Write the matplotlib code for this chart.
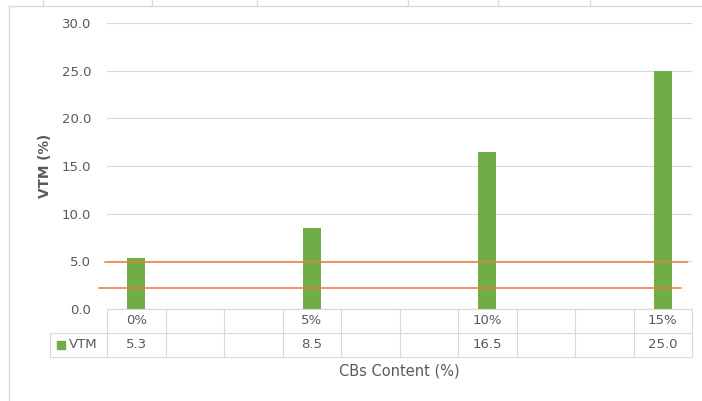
import numpy as np
import matplotlib.pyplot as plt
from matplotlib.lines import Line2D

# data (Excel sheet had blank rows between the filled categories)
categories = ['0%', '', '', '5%', '', '', '10%', '', '', '15%']
vtm = [5.3, np.nan, np.nan, 8.5, np.nan, np.nan, 16.5, np.nan, np.nan, 25.0]
series_name = 'VTM'
y_ticks = [0, 5, 10, 15, 20, 25, 30]

# the two hand-drawn orange reference lines
ref_levels = [4.9, 2.2]
ref_spans = [(-0.54, 9.42), (-0.64, 9.32)]

W, H = 702, 401
green = '#70AD47'
orange = '#ED7D31'
grid_c = '#d9d9d9'
txt_c = '#595959'
fs = 9.5

fig = plt.figure(figsize=(W / 100, H / 100), dpi=100)

ax = fig.add_axes([107 / W, 1 - 309 / H, 585 / W, 286 / H])
x = np.arange(len(categories))
ax.bar(x, vtm, width=0.31, color=green, zorder=2)
for lvl, (x0, x1) in zip(ref_levels, ref_spans):
    ax.plot([x0, x1], [lvl, lvl], color=orange, lw=1.1, zorder=3, clip_on=False)

ax.set_xlim(-0.5, len(categories) - 0.5)
ax.set_ylim(0, 30)
ax.set_yticks(y_ticks)
ax.set_yticklabels([f'{v:.1f}' for v in y_ticks], color=txt_c, fontsize=fs)
ax.set_xticks([])
ax.tick_params(axis='y', length=0, pad=11.5)
ax.grid(axis='y', color=grid_c, lw=0.8)
ax.set_axisbelow(True)
for s in ax.spines.values():
    s.set_visible(False)

fig.text(45 / W, 1 - 166 / H, 'VTM (%)', rotation=90, ha='center', va='center',
         fontsize=fs + 0.3, fontweight='bold', color=txt_c)

# data table under the plot
tax = fig.add_axes([50 / W, 1 - 357 / H, 642 / W, 48 / H])
xleft = -0.5 - 57 / 58.5
xr = len(categories) - 0.5
tax.set_xlim(xleft, xr)
tax.set_ylim(0, 2)
tax.axis('off')
lk = dict(color=grid_c, lw=0.8, clip_on=False)
tax.plot([-0.5, xr], [2, 2], **lk)
tax.plot([xleft, xr], [1, 1], **lk)
tax.plot([xleft, xr], [0, 0], **lk)
tax.plot([xleft, xleft], [0, 1], **lk)
for k in range(len(categories) + 1):
    tax.plot([k - 0.5, k - 0.5], [0, 2], **lk)
for i, (c, v) in enumerate(zip(categories, vtm)):
    tax.text(i, 1.5, c, ha='center', va='center', fontsize=fs, color=txt_c)
    if not np.isnan(v):
        tax.text(i, 0.5, f'{v:.1f}', ha='center', va='center', fontsize=fs, color=txt_c)
tax.plot([xleft + 10.5 / 58.5], [0.5], marker='s', ms=5.5, color=green, ls='none', clip_on=False)
tax.text(xleft + 19 / 58.5, 0.5, series_name, ha='left', va='center', fontsize=fs, color=txt_c)

fig.text(399.5 / W, 1 - 371 / H, 'CBs Content (%)', ha='center', va='center',
         fontsize=10.5, color=txt_c)

# outer chart frame (cropped screenshot edges)
top = 1 - 6 / H
fig.add_artist(Line2D([9 / W, 9 / W], [0, top], color=grid_c, lw=1))
fig.add_artist(Line2D([9 / W, 1], [top, top], color=grid_c, lw=1))
for px in [43, 152, 257, 408, 498, 590]:
    fig.add_artist(Line2D([px / W, px / W], [top, 1], color=grid_c, lw=1))

fig.savefig('out.png', dpi=100)
